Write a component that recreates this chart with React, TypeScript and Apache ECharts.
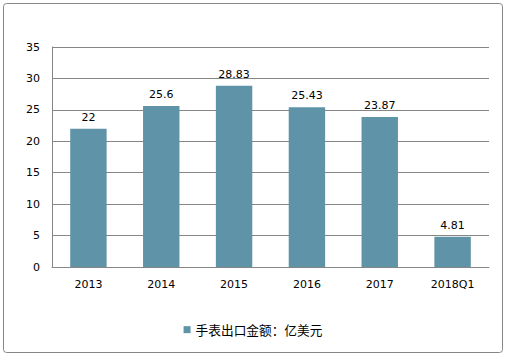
import React, { useEffect, useRef } from "react";
import * as echarts from "echarts";

const categories = ["2013", "2014", "2015", "2016", "2017", "2018Q1"];
const values = [22, 25.6, 28.83, 25.43, 23.87, 4.81];
const seriesName = "手表出口金额：亿美元";

export default function App() {
  const ref = useRef<HTMLDivElement>(null);
  useEffect(() => {
    const chart = echarts.init(ref.current!, null, { renderer: "svg" });
    const font = "'DejaVu Sans', sans-serif";
    chart.setOption({
      animation: false,
      graphic: [
        {
          type: "rect",
          shape: { x: 3.5, y: 3.5, width: 499, height: 349, r: 3 },
          style: { fill: "none", stroke: "#868686", lineWidth: 1 },
        },
      ],
      grid: { left: 52, right: 17, top: 47, bottom: 91 },
      legend: {
        bottom: 17,
        left: "center",
        itemWidth: 7,
        itemHeight: 7,
        itemGap: 4,
        icon: "rect",
        textStyle: { fontSize: 12.7, color: "#000", fontFamily: "'Noto Sans CJK SC', sans-serif" },
        data: [seriesName],
      },
      xAxis: {
        type: "category",
        data: categories,
        axisLine: { show: true, lineStyle: { color: "#868686" } },
        axisTick: { show: false },
        axisLabel: { color: "#000", fontSize: 11, fontFamily: font, margin: 12 },
      },
      yAxis: {
        type: "value",
        min: 0,
        max: 35,
        interval: 5,
        axisLine: { show: true, lineStyle: { color: "#868686" } },
        axisTick: { show: false },
        splitLine: { lineStyle: { color: "#868686" } },
        axisLabel: { color: "#000", fontSize: 11, fontFamily: font, margin: 12 },
      },
      series: [
        {
          name: seriesName,
          type: "bar",
          data: values,
          barWidth: "50%",
          itemStyle: { color: "#5f93a8" },
          label: { show: true, position: "top", color: "#000", fontSize: 11, fontFamily: font, distance: 6 },
        },
      ],
    });
    return () => chart.dispose();
  }, []);
  return <div ref={ref} style={{ width: 506, height: 358, position: "absolute", left: 0, top: 0 }} />;
}
